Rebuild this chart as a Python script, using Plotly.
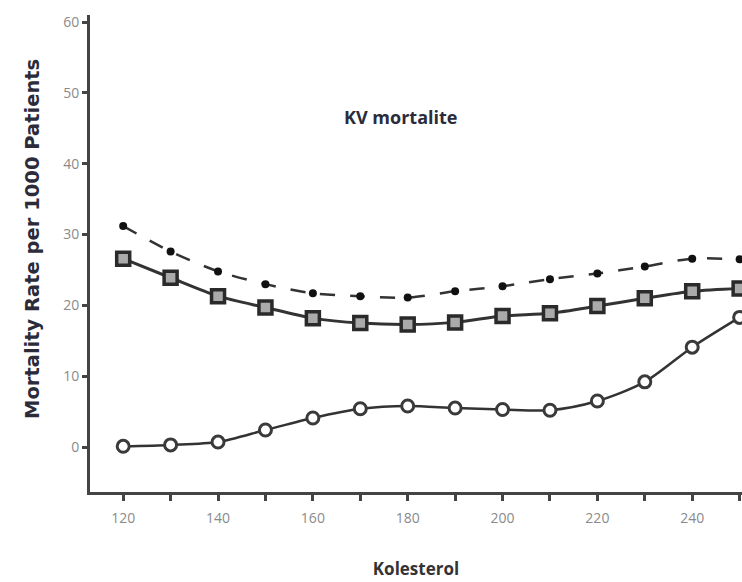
import plotly.graph_objects as go

cholesterol = [120, 130, 140, 150, 160, 170, 180, 190, 200, 210, 220, 230, 240, 250]
total_mortality = [31.2, 27.6, 24.8, 23.0, 21.7, 21.3, 21.1, 22.0, 22.7, 23.7, 24.5, 25.5, 26.6, 26.5]
cv_mortality = [26.6, 23.9, 21.3, 19.7, 18.2, 17.5, 17.3, 17.6, 18.5, 18.9, 19.9, 21.0, 22.0, 22.4]
other_mortality = [0.1, 0.3, 0.7, 2.4, 4.1, 5.4, 5.8, 5.5, 5.3, 5.2, 6.5, 9.2, 14.1, 18.3]

x_ticks = [120, 140, 160, 180, 200, 220, 240]
y_ticks = [0, 10, 20, 30, 40, 50, 60]

line_col = "#333333"

fig = go.Figure()
fig.add_trace(go.Scatter(
    x=cholesterol, y=total_mortality, mode="lines+markers",
    line=dict(color=line_col, width=2.5, dash="longdash", shape="spline", smoothing=0.8),
    marker=dict(symbol="circle", size=8, color="#111111", line=dict(width=0)),
    showlegend=False))
fig.add_trace(go.Scatter(
    x=cholesterol, y=cv_mortality, mode="lines+markers",
    line=dict(color=line_col, width=3, shape="spline", smoothing=0.8),
    marker=dict(symbol="square", size=13, color="#aaaaaa", line=dict(width=3.5, color="#2a2a2a")),
    showlegend=False))
fig.add_trace(go.Scatter(
    x=cholesterol, y=other_mortality, mode="lines+markers",
    line=dict(color=line_col, width=2.5, shape="spline", smoothing=0.8),
    marker=dict(symbol="circle", size=12, color="white", line=dict(width=3, color="#3a3a3a")),
    showlegend=False))

plot_w = 742 - 90
plot_h = 582 - 15 - 90

fig.update_layout(
    width=742, height=582,
    margin=dict(l=90, r=0, t=15, b=90),
    plot_bgcolor="white", paper_bgcolor="white",
    annotations=[
        dict(x=(400 - 90) / plot_w, y=(582 - 90 - 117) / plot_h, xref="paper", yref="paper",
             xanchor="center", yanchor="middle",
             text="<b>KV mortalite</b>", showarrow=False,
             font=dict(size=18, color="#2b2b3a", family="Open Sans")),
        dict(x=(33 - 90) / plot_w, y=(582 - 90 - 239) / plot_h, xref="paper", yref="paper",
             xanchor="center", yanchor="middle", textangle=-90,
             text="<b>Mortality Rate per 1000 Patients</b>", showarrow=False,
             font=dict(size=19.5, color="#2b2b3a", family="DejaVu Sans")),
    ],
)

fig.update_xaxes(
    range=[113, 250.5], tickmode="array", tickvals=x_ticks,
    ticks="outside", ticklen=6, tickwidth=3, tickcolor="#444444",
    ticklabelstandoff=5,
    minor=dict(tickmode="array", tickvals=[130, 150, 170, 190, 210, 230, 250],
               ticks="outside", ticklen=6, tickwidth=3, tickcolor="#444444"),
    showline=True, linewidth=3, linecolor="#444444", showgrid=False, zeroline=False,
    tickfont=dict(size=14, color="#8a8a8a", family="Open Sans"),
    title=dict(text="<b>Kolesterol</b>", font=dict(size=17, color="#333333", family="Open Sans"),
               standoff=38),
)
fig.update_yaxes(
    range=[-6.35, 61], tickmode="array", tickvals=y_ticks,
    ticks="outside", ticklen=5, tickwidth=3, tickcolor="#444444",
    showline=True, linewidth=3, linecolor="#444444", showgrid=False, zeroline=False,
    tickfont=dict(size=14, color="#8a8a8a", family="Open Sans"),
)

fig.write_html("out.html")
